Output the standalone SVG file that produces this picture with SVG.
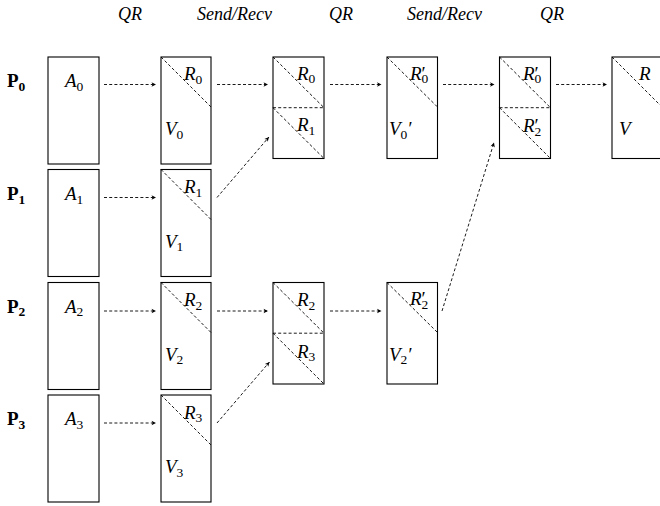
<svg xmlns="http://www.w3.org/2000/svg" width="660" height="506" viewBox="0 0 660 506">
<defs>
<marker id="ah" markerUnits="userSpaceOnUse" markerWidth="8" markerHeight="8" viewBox="-5 -4 6 8" refX="0" refY="0" orient="auto">
<path d="M0,0 L-4.5,-2.2 L-3.3,0 L-4.5,2.2 Z" fill="#000"/>
</marker>
<style>
.box{fill:#fff;stroke:#000;stroke-width:1.1}
.dash{fill:none;stroke:#000;stroke-width:0.9;stroke-dasharray:3 2.2}
.arr{fill:none;stroke:#000;stroke-width:0.9;stroke-dasharray:3 2.2;marker-end:url(#ah)}
.m{font-family:"Liberation Serif","Times New Roman",serif;font-style:italic;font-size:19px;fill:#000}
.p{font-family:"Liberation Serif","Times New Roman",serif;font-weight:bold;font-size:19px;fill:#000}
.s{font-size:13.5px;font-style:normal}
.pr{font-style:normal}
.hd{font-family:"Liberation Serif","Times New Roman",serif;font-style:italic;font-size:18px;fill:#000}
</style>
</defs>
<rect width="660" height="506" fill="#fff"/>
<g id="headers">
<text class="hd" x="118" y="20">QR</text>
<text class="hd" x="197" y="20">Send/Recv</text>
<text class="hd" x="329" y="20">QR</text>
<text class="hd" x="407" y="20">Send/Recv</text>
<text class="hd" x="540" y="20">QR</text>
</g>
<g id="proc-labels">
<text class="p" x="7" y="87">P<tspan class="s" dy="3.5">0</tspan></text>
<text class="p" x="7" y="200">P<tspan class="s" dy="3.5">1</tspan></text>
<text class="p" x="7" y="312.5">P<tspan class="s" dy="3.5">2</tspan></text>
<text class="p" x="7" y="425">P<tspan class="s" dy="3.5">3</tspan></text>
</g>
<g id="A0"><rect class="box" x="48" y="57" width="51" height="107"/><text class="m" x="65" y="87">A<tspan class="s" dy="3.5">0</tspan></text></g>
<g id="A1"><rect class="box" x="48" y="169.5" width="51" height="107"/><text class="m" x="65" y="200">A<tspan class="s" dy="3.5">1</tspan></text></g>
<g id="A2"><rect class="box" x="48" y="282.5" width="51" height="107"/><text class="m" x="65" y="312.5">A<tspan class="s" dy="3.5">2</tspan></text></g>
<g id="A3"><rect class="box" x="48" y="395" width="51" height="107"/><text class="m" x="65" y="425">A<tspan class="s" dy="3.5">3</tspan></text></g>

<g id="QR0"><rect class="box" x="161" y="57" width="50" height="107"/><line class="dash" x1="161" y1="57" x2="211" y2="107"/><text class="m" x="184" y="80">R<tspan class="s" dy="3.5">0</tspan></text><text class="m" x="165" y="135">V<tspan class="s" dy="3.5">0</tspan></text></g>
<g id="QR1"><rect class="box" x="161" y="169.5" width="50" height="107"/><line class="dash" x1="161" y1="169.5" x2="211" y2="219.5"/><text class="m" x="184" y="193">R<tspan class="s" dy="3.5">1</tspan></text><text class="m" x="165" y="247.5">V<tspan class="s" dy="3.5">1</tspan></text></g>
<g id="QR2"><rect class="box" x="161" y="282.5" width="50" height="107"/><line class="dash" x1="161" y1="282.5" x2="211" y2="332.5"/><text class="m" x="184" y="306">R<tspan class="s" dy="3.5">2</tspan></text><text class="m" x="165" y="360.5">V<tspan class="s" dy="3.5">2</tspan></text></g>
<g id="QR3"><rect class="box" x="161" y="395" width="50" height="107"/><line class="dash" x1="161" y1="395" x2="211" y2="445"/><text class="m" x="184" y="418.5">R<tspan class="s" dy="3.5">3</tspan></text><text class="m" x="165" y="473">V<tspan class="s" dy="3.5">3</tspan></text></g>

<g id="M01"><rect class="box" x="273" y="57" width="51" height="101.5"/><line class="dash" x1="273" y1="107.7" x2="324" y2="107.7"/><line class="dash" x1="273" y1="57" x2="324" y2="107.7"/><line class="dash" x1="273" y1="107.7" x2="324" y2="158.5"/><text class="m" x="297" y="79.5">R<tspan class="s" dy="3.5">0</tspan></text><text class="m" x="297" y="131">R<tspan class="s" dy="3.5">1</tspan></text></g>
<g id="M23"><rect class="box" x="273" y="282.5" width="51" height="101.5"/><line class="dash" x1="273" y1="333.2" x2="324" y2="333.2"/><line class="dash" x1="273" y1="282.5" x2="324" y2="333.2"/><line class="dash" x1="273" y1="333.2" x2="324" y2="384"/><text class="m" x="297" y="306">R<tspan class="s" dy="3.5">2</tspan></text><text class="m" x="297" y="357.5">R<tspan class="s" dy="3.5">3</tspan></text></g>

<g id="QR01"><rect class="box" x="387" y="57" width="50.5" height="101.5"/><line class="dash" x1="387" y1="57" x2="437.5" y2="107"/><text class="m" x="410" y="79.5">R<tspan class="pr" x="421.5">′</tspan><tspan class="s" x="421.5" dy="3.5">0</tspan></text><text class="m" x="389" y="135">V<tspan class="s" dy="3.5">0</tspan><tspan dy="-3.5">′</tspan></text></g>
<g id="QR23"><rect class="box" x="387" y="282.5" width="50.5" height="101.5"/><line class="dash" x1="387" y1="282.5" x2="437.5" y2="332.5"/><text class="m" x="410" y="305">R<tspan class="pr" x="421.5">′</tspan><tspan class="s" x="421.5" dy="3.5">2</tspan></text><text class="m" x="389" y="360.5">V<tspan class="s" dy="3.5">2</tspan><tspan dy="-3.5">′</tspan></text></g>

<g id="M02"><rect class="box" x="499.5" y="57" width="51" height="101.5"/><line class="dash" x1="499.5" y1="107.7" x2="550.5" y2="107.7"/><line class="dash" x1="499.5" y1="57" x2="550.5" y2="107.7"/><line class="dash" x1="499.5" y1="107.7" x2="550.5" y2="158.5"/><text class="m" x="523" y="79.5">R<tspan class="pr" x="534.5">′</tspan><tspan class="s" x="534.5" dy="3.5">0</tspan></text><text class="m" x="523" y="132">R<tspan class="pr" x="534.5">′</tspan><tspan class="s" x="534.5" dy="3.5">2</tspan></text></g>

<g id="QRfinal"><rect class="box" x="612" y="57" width="51" height="101.5"/><line class="dash" x1="612" y1="57" x2="663" y2="108"/><text class="m" x="639" y="79.5">R</text><text class="m" x="619" y="135">V</text></g>

<g id="connectors">
<line class="arr" x1="104" y1="84.5" x2="156" y2="84.5"/>
<line class="arr" x1="217" y1="84.5" x2="268" y2="84.5"/>
<line class="arr" x1="330" y1="84.5" x2="381.5" y2="84.5"/>
<line class="arr" x1="443" y1="84.5" x2="494.5" y2="84.5"/>
<line class="arr" x1="556" y1="84.5" x2="607" y2="84.5"/>
<line class="arr" x1="104" y1="197.5" x2="156" y2="197.5"/>
<line class="arr" x1="104" y1="311" x2="156" y2="311"/>
<line class="arr" x1="217" y1="311" x2="268" y2="311"/>
<line class="arr" x1="330" y1="311" x2="381.5" y2="311"/>
<line class="arr" x1="104" y1="423" x2="156" y2="423"/>
<line class="arr" x1="217" y1="197.5" x2="269" y2="137"/>
<line class="arr" x1="217" y1="423" x2="269.5" y2="362"/>
<line class="arr" x1="442" y1="311" x2="494" y2="142.5"/>
</g>
</svg>
